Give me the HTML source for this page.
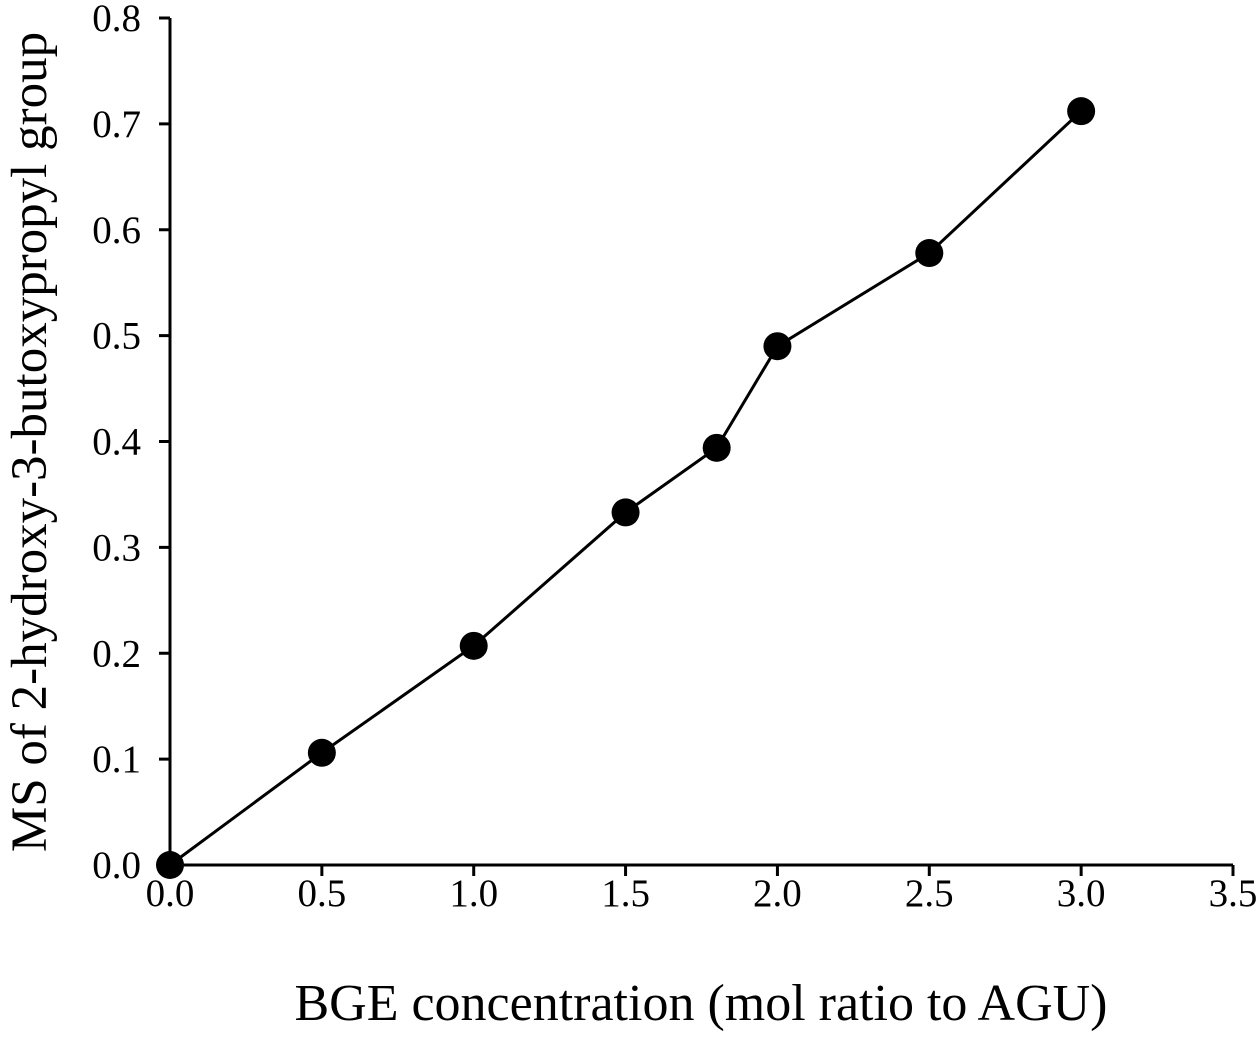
<!DOCTYPE html>
<html><head><meta charset="utf-8"><style>
body{margin:0;background:#fff}
svg{display:block;font-family:"Liberation Serif",serif}
</style></head><body>
<svg id="chart" width="1260" height="1044" xmlns="http://www.w3.org/2000/svg">
<g id="axes"></g><g id="series"></g>
</svg>
<script>
const xValues=[0,0.5,1.0,1.5,1.8,2.0,2.5,3.0];
const yValues=[0,0.106,0.207,0.333,0.394,0.49,0.578,0.712];
const xTicks=[0,0.5,1.0,1.5,2.0,2.5,3.0,3.5];
const yTicks=[0,0.1,0.2,0.3,0.4,0.5,0.6,0.7,0.8];
const xLabel="BGE concentration (mol ratio to AGU)";
const yLabel="MS of 2-hydroxy-3-butoxypropyl group";
const NS="http://www.w3.org/2000/svg";
const X0=170,X1=1233,Y0=865,Y1=18;
const sx=v=>X0+(v-0)/3.5*(X1-X0);
const sy=v=>Y0-(v-0)/0.8*(Y0-Y1);
function mk(tag,attrs,parent){const e=document.createElementNS(NS,tag);for(const k in attrs)e.setAttribute(k,attrs[k]);parent.appendChild(e);return e;}
const ax=document.getElementById('axes'),se=document.getElementById('series');
let e=mk('line',{x1:X0,y1:Y1,x2:X0,y2:Y0,stroke:'#000','stroke-width':3},ax);

e=mk('line',{x1:X0,y1:Y0,x2:X1,y2:Y0,stroke:'#000','stroke-width':3},ax);

yTicks.forEach(t=>{const y=sy(t);
 let l=mk('line',{x1:X0-11,y1:y,x2:X0,y2:y,stroke:'#000','stroke-width':3},ax);
 
 let tx=mk('text',{x:141,y:y+13,'text-anchor':'end','font-size':39},ax);tx.textContent=t.toFixed(1);
 });
xTicks.forEach(t=>{const x=sx(t);
 let l=mk('line',{x1:x,y1:Y0,x2:x,y2:Y0+11,stroke:'#000','stroke-width':3},ax);
 
 let tx=mk('text',{x:x,y:Y0+41,'text-anchor':'middle','font-size':39},ax);tx.textContent=t.toFixed(1);
 });
let xt=mk('text',{x:701,y:1020,'text-anchor':'middle','font-size':52},ax);xt.textContent=xLabel;

let yt=mk('text',{x:0,y:0,'text-anchor':'middle','font-size':51,transform:'translate(46,442) rotate(-90)'},ax);yt.textContent=yLabel;

const pts=xValues.map((v,i)=>sx(v)+','+sy(yValues[i])).join(' ');
let pl=mk('polyline',{points:pts,fill:'none',stroke:'#000','stroke-width':3},se);

xValues.forEach((v,i)=>{let c=mk('circle',{cx:sx(v),cy:sy(yValues[i]),r:14,fill:'#000'},se);
 });
</script>
</body></html>
